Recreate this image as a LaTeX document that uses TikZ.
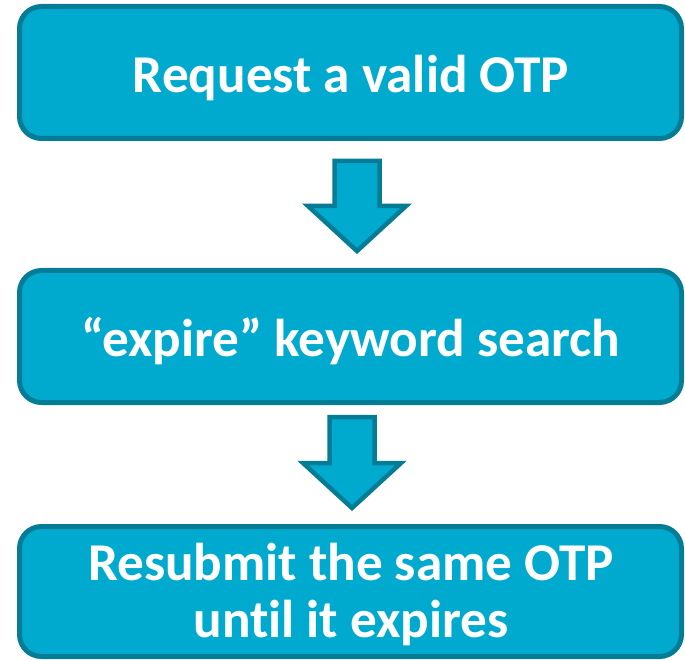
\documentclass[tikz,border=0pt]{standalone}
\usepackage{fontspec}
\setmainfont{Carlito}[Ligatures={NoCommon}]
\definecolor{boxfill}{RGB}{0,170,206}
\definecolor{boxline}{RGB}{4,124,149}
\tikzset{
  stepbox/.style={draw=boxline, fill=boxfill, line width=5pt, rounded corners=22pt},
  blockarrow/.style={draw=boxline, fill=boxfill, line width=4.5pt, line join=miter},
  steptext/.style={text=white, font=\fontsize{53.2}{59}\selectfont\bfseries, anchor=base, inner sep=0pt, align=center}
}
\begin{document}
\begin{tikzpicture}[x=1pt, y=-1pt]
  \useasboundingbox (0,0) rectangle (685,660);
  % three process steps
  \draw[stepbox] (19.5,6.5) rectangle (681.5,138.5);
  \draw[stepbox] (19.5,270.5) rectangle (681.5,402.5);
  \draw[stepbox] (19.5,526.5) rectangle (681.5,656.5);
  \node[steptext] (s1) at (351,93) {Request a valid OTP};
  \node[steptext] (s2) at (351,356) {“expire” keyword search};
  \node[steptext] (s3) at (351,580) {Resubmit the same OTP};
  \node[steptext] (s3b) at (351,637) {until it expires};
  % block arrows between steps
  \draw[blockarrow] (334.5,161) -- (379.5,161) -- (379.5,206) -- (406,206) -- (357,251)
    -- (308,206) -- (334.5,206) -- cycle;
  \draw[blockarrow] (329.5,417) -- (374.5,417) -- (374.5,463) -- (401,463) -- (352,508)
    -- (303,463) -- (329.5,463) -- cycle;
\end{tikzpicture}
\end{document}
